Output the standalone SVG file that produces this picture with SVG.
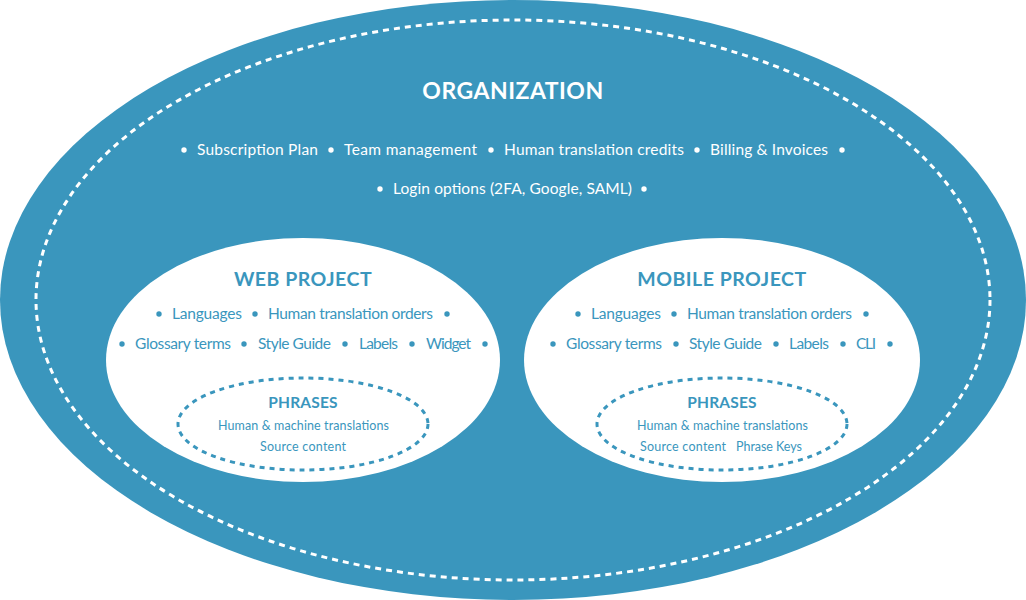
<svg xmlns="http://www.w3.org/2000/svg" width="1026" height="600" viewBox="0 0 1026 600">
<style>
text{font-family:Lato,"Open Sans","Liberation Sans",sans-serif}
.w{fill:#ffffff}
.b{fill:#3a96bd}
.t1{font-size:23px;font-weight:bold;letter-spacing:0.5px}
.t2{font-size:19.5px;font-weight:bold;letter-spacing:0.5px}
.t3{font-size:15.5px;font-weight:bold;letter-spacing:0.2px}
.i{font-size:15.5px}
.s{font-size:12.5px}
.dw{fill:none;stroke:#ffffff;stroke-width:3;stroke-dasharray:6,5}
.db{fill:none;stroke:#3a96bd;stroke-width:3;stroke-dasharray:5,5}
</style>
<rect width="1026" height="600" fill="#ffffff"/>
<g id="organization">
<ellipse cx="513" cy="300" rx="513" ry="300" fill="#3a96bd"/>
<ellipse class="dw" cx="513" cy="300" rx="477" ry="280"/>
<text class="w t1" x="513" y="99" text-anchor="middle">ORGANIZATION</text>
<g class="w">
<circle cx="184" cy="150" r="2.7"/><circle cx="331" cy="150" r="2.7"/><circle cx="491" cy="150" r="2.7"/><circle cx="697" cy="150" r="2.7"/><circle cx="842" cy="150" r="2.7"/>
<circle cx="380" cy="189" r="2.7"/><circle cx="644" cy="189" r="2.7"/>
</g>
<g class="w i">
<text x="197" y="155" textLength="121">Subscription Plan</text>
<text x="344" y="155" textLength="133">Team management</text>
<text x="504" y="155" textLength="180">Human translation credits</text>
<text x="710" y="155" textLength="118">Billing &amp; Invoices</text>
<text x="393" y="194" textLength="239">Login options (2FA, Google, SAML)</text>
</g>
</g>
<g id="web-project">
<ellipse cx="303" cy="360" rx="197" ry="122" fill="#ffffff"/>
<text class="b t2" x="303" y="286" text-anchor="middle">WEB PROJECT</text>
<g class="b">
<circle cx="159" cy="314" r="2.7"/><circle cx="255" cy="314" r="2.7"/><circle cx="447" cy="314" r="2.7"/>
<circle cx="122" cy="344" r="2.7"/><circle cx="244" cy="344" r="2.7"/><circle cx="345" cy="344" r="2.7"/><circle cx="412" cy="344" r="2.7"/><circle cx="485" cy="344" r="2.7"/>
</g>
<g class="b i">
<text x="172" y="319" textLength="70">Languages</text>
<text x="268" y="319" textLength="165">Human translation orders</text>
<text x="135" y="349" textLength="96">Glossary terms</text>
<text x="258" y="349" textLength="73">Style Guide</text>
<text x="359" y="349" textLength="39">Labels</text>
<text x="426" y="349" textLength="45">Widget</text>
</g>
</g>
<g id="web-phrases">
<ellipse class="db" cx="303" cy="424" rx="125" ry="46"/>
<text class="b t3" x="303" y="408" text-anchor="middle">PHRASES</text>
<text class="b s" x="218" y="430" textLength="171">Human &amp; machine translations</text>
<text class="b s" x="260" y="451" textLength="86">Source content</text>
</g>
<g id="mobile-project">
<ellipse cx="722" cy="360" rx="198" ry="122" fill="#ffffff"/>
<text class="b t2" x="722" y="286" text-anchor="middle">MOBILE PROJECT</text>
<g class="b">
<circle cx="578" cy="314" r="2.7"/><circle cx="674" cy="314" r="2.7"/><circle cx="866" cy="314" r="2.7"/>
<circle cx="553" cy="344" r="2.7"/><circle cx="676" cy="344" r="2.7"/><circle cx="776" cy="344" r="2.7"/><circle cx="843" cy="344" r="2.7"/><circle cx="890" cy="344" r="2.7"/>
</g>
<g class="b i">
<text x="591" y="319" textLength="70">Languages</text>
<text x="687" y="319" textLength="165">Human translation orders</text>
<text x="566" y="349" textLength="96">Glossary terms</text>
<text x="689" y="349" textLength="73">Style Guide</text>
<text x="789" y="349" textLength="40">Labels</text>
<text x="856" y="349" textLength="20">CLI</text>
</g>
</g>
<g id="mobile-phrases">
<ellipse class="db" cx="722" cy="424" rx="125" ry="46"/>
<text class="b t3" x="722" y="408" text-anchor="middle">PHRASES</text>
<text class="b s" x="637" y="430" textLength="171">Human &amp; machine translations</text>
<text class="b s" x="640" y="451" textLength="86">Source content</text>
<text class="b s" x="736" y="451" textLength="66">Phrase Keys</text>
</g>
<g id="connectors"/>
</svg>
